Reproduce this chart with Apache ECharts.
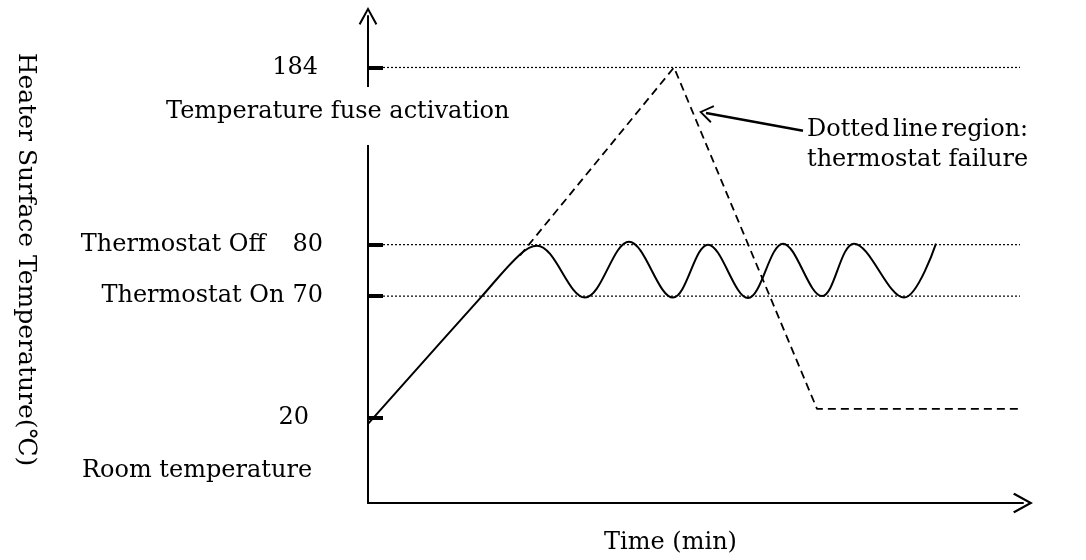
<!DOCTYPE html>
<html><head><meta charset="utf-8">
<script src="https://cdn.jsdelivr.net/npm/echarts@6/dist/echarts.min.js"></script>
<style>html,body{margin:0;padding:0;background:#fff}#c{width:1086px;height:560px}</style>
</head><body><div id="c"></div>
<script>
// ---------------- data ----------------
const tickTemps  = [184, 80, 70, 20];
const tickLabels = ['184', '80', '70', '20'];
const tickNotes  = ['', 'Thermostat Off', 'Thermostat On', ''];
const thresholdTemps = [184, 80, 70];
const thresholdSpan  = [15, 652];               // time range of the dotted guide lines
const normalTime = [0, 114, 152, 169, 217, 261, 305, 340, 380, 415, 454, 486, 536, 568];
const normalTemp = [18.6, 70, 78.1, 79.8, 69.4, 81.7, 69.4, 80, 69.2, 80.6, 70, 80.6, 69.4, 80.6];
const failureTime = [152, 306, 449, 654];
const failureTemp = [77.9, 184, 23.7, 23.7];
const calloutTime = [435, 338];
const calloutTemp = [146.8, 157.3];
const calloutLines = ['Dotted line region:', 'thermostat failure'];
const fuseNote = 'Temperature fuse activation';
const roomNote = 'Room temperature';
const yTitle = 'Heater Surface Temperature(℃)';
const xTitle = 'Time (min)';

// ---------------- schematic (non-linear) temperature scale ----------------
const knotTemp = [0, 20, 70, 80, 184];
const knotPos  = [0, 86, 209, 261, 440];
function disp(t) {
  for (let i = 1; i < knotTemp.length; i++) {
    if (t <= knotTemp[i] || i === knotTemp.length - 1) {
      const a = knotTemp[i - 1], b = knotTemp[i];
      return knotPos[i - 1] + (t - a) / (b - a) * (knotPos[i] - knotPos[i - 1]);
    }
  }
}

const FONT = '"DejaVu Serif", "Liberation Serif", serif';
const FS = 24;
const chevron = 'path://M50,0 L100,90 L91,97 L50,22 L9,97 L0,90 Z';

// justified first line of the callout (spread to the width of the second line)
const mctx = document.createElement('canvas').getContext('2d');
mctx.font = FS + 'px ' + FONT;
const calloutLeft = 807;
const line2W = mctx.measureText(calloutLines[1]).width;
const words = calloutLines[0].split(' ');
const wordW = words.map(w => mctx.measureText(w).width);
const gapW = (line2W - wordW.reduce((s, w) => s + w, 0)) / (words.length - 1);
let cx = calloutLeft;
const calloutWordEls = words.map((w, i) => {
  const el = {type: 'text', z: 101, x: cx, y: 130,
    style: {text: w, font: FS + 'px ' + FONT, fill: '#000', align: 'left', textAlign: 'left', verticalAlign: 'middle', textVerticalAlign: 'middle'}};
  cx += wordW[i] + gapW;
  return el;
});

const chart = echarts.init(document.getElementById('c'), null, {renderer: 'canvas'});

const guideSeries = thresholdTemps.map(t => ({
  type: 'line', silent: true, symbol: 'none', animation: false,
  data: [[thresholdSpan[0], disp(t)], [thresholdSpan[1], disp(t)]],
  lineStyle: {color: '#000', width: 1.2, type: [2, 2]}
}));

function txt(text, x, y, align) {
  return {type: 'text', z: 101, x: x, y: y,
    style: {text: text, font: FS + 'px ' + FONT, fill: '#000', align: align, textAlign: align, verticalAlign: 'middle', textVerticalAlign: 'middle'}};
}

const option = {
  animation: false,
  backgroundColor: '#fff',
  grid: {left: 368, right: 63, top: 16, bottom: 52, containLabel: false},
  xAxis: {
    type: 'value', min: 0, max: 655,
    name: xTitle, nameLocation: 'middle', nameGap: 28,
    nameTextStyle: {fontFamily: FONT, fontSize: FS, color: '#000', padding: [0, 50, 0, 0]},
    axisLine: {show: true, lineStyle: {color: '#000', width: 2}, symbol: ['none', chevron], symbolSize: [22, 20]},
    axisTick: {show: false}, axisLabel: {show: false}, splitLine: {show: false}
  },
  yAxis: {
    type: 'value', min: 0, max: 492,
    name: yTitle, nameLocation: 'middle', nameRotate: -90, nameGap: 330,
    nameTextStyle: {fontFamily: FONT, fontSize: 25, color: '#000', padding: [0, 0, 0, 0]},
    axisLine: {show: true, lineStyle: {color: '#000', width: 2}, symbol: ['none', chevron], symbolSize: [19, 18]},
    axisTick: {show: true, inside: true, length: 15, customValues: tickTemps.map(disp),
               lineStyle: {color: '#000', width: 4}},
    axisLabel: {
      show: true, margin: 45, customValues: tickTemps.map(disp),
      fontFamily: FONT, fontSize: FS, color: '#000',
      formatter: function (v) {
        let i = 0, best = 1e9;
        tickTemps.forEach((t, k) => { const d = Math.abs(disp(t) - v); if (d < best) { best = d; i = k; } });
        const styles = ['a', 'n', 'n', 'b'];
        const noteStyles = ['', 'w', 'v', ''];
        const num = '{' + styles[i] + '|' + tickLabels[i] + '}';
        return tickNotes[i] ? '{' + noteStyles[i] + '|' + tickNotes[i] + '}' + num : num;
      },
      rich: {
        n: {fontFamily: FONT, fontSize: FS, color: '#000'},
        a: {fontFamily: FONT, fontSize: FS, color: '#000', padding: [0, 5, 0, 0]},
        b: {fontFamily: FONT, fontSize: FS, color: '#000', padding: [0, 14, 0, 0]},
        w: {fontFamily: FONT, fontSize: FS, color: '#000', padding: [0, 27, 0, 0]},
        v: {fontFamily: FONT, fontSize: FS, color: '#000', padding: [0, 8, 0, 0]}
      }
    },
    splitLine: {show: false}
  },
  series: guideSeries.concat([
    {
      type: 'line', name: 'normal', silent: true, symbol: 'none', smooth: 0.36,
      data: normalTime.map((x, i) => [x, disp(normalTemp[i])]),
      lineStyle: {color: '#000', width: 2}
    },
    {
      type: 'line', name: 'failure', silent: true, symbol: 'none',
      data: failureTime.map((x, i) => [x, disp(failureTemp[i])]),
      lineStyle: {color: '#000', width: 1.8, type: [8, 5]},
      markLine: {
        silent: true, animation: false,
        symbol: ['none', chevron], symbolSize: [18, 14],
        label: {show: false},
        lineStyle: {color: '#000', width: 2.5, type: 'solid'},
        data: [[{coord: [calloutTime[0], disp(calloutTemp[0])]}, {coord: [calloutTime[1], disp(calloutTemp[1])]}]]
      }
    }
  ]),
  graphic: [
    {type: 'rect', z: 100, shape: {x: 358, y: 87, width: 20, height: 58}, style: {fill: '#fff'}},
    txt(fuseNote, 166, 112, 'left'),
    txt(roomNote, 82, 471, 'left'),
    txt(calloutLines[1], calloutLeft, 160, 'left')
  ].concat(calloutWordEls)
};
chart.setOption(option);
</script>
</body></html>
